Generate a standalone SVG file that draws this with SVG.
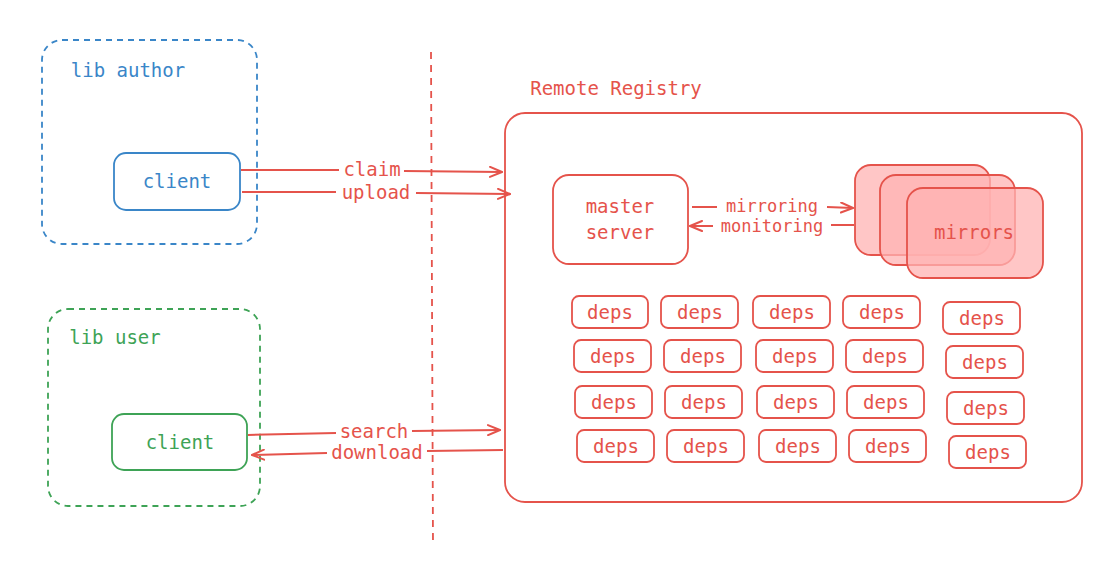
<svg xmlns="http://www.w3.org/2000/svg" width="1106" height="586" viewBox="0 0 1106 586">
<defs>
<marker id="ah" markerWidth="14" markerHeight="12" refX="13" refY="6" orient="auto" markerUnits="userSpaceOnUse"><path d="M1,1 L13,6 L1,11" fill="none" stroke="#e5534b" stroke-width="2" stroke-linecap="round"/></marker>
<style>
text{font-family:"DejaVu Sans Mono","Liberation Mono",monospace;font-size:19px;text-anchor:middle;dominant-baseline:central}
.r{fill:#e5534b}.b{fill:#3a86c8}.g{fill:#3ea356}
.sm{font-size:17px}
.rs{fill:#fff;stroke:#e5534b;stroke-width:1.8}
.ln{stroke:#e5534b;stroke-width:2;fill:none}
.dp rect{fill:#fff;stroke:#e5534b;stroke-width:1.8}
</style>
</defs>
<rect width="1106" height="586" fill="#fff"/>
<g id="lib-author"><rect x="42" y="40" width="215" height="204" rx="20" fill="none" stroke="#3a86c8" stroke-width="1.8" stroke-dasharray="6,5"/><text x="128" y="70" class="b">lib author</text></g>
<g id="author-client"><rect x="114" y="153" width="126" height="57" rx="12" fill="#fff" stroke="#3a86c8" stroke-width="1.8"/><text x="177" y="181" class="b">client</text></g>
<g id="lib-user"><rect x="48" y="309" width="212" height="197" rx="20" fill="none" stroke="#3ea356" stroke-width="1.8" stroke-dasharray="6,5"/><text x="115" y="337" class="g">lib user</text></g>
<g id="user-client"><rect x="112" y="414" width="135" height="56" rx="12" fill="#fff" stroke="#3ea356" stroke-width="1.8"/><text x="180" y="442" class="g">client</text></g>
<g id="divider"><line x1="431" y1="52" x2="433" y2="546" stroke="#e5534b" stroke-width="1.8" stroke-dasharray="7,6"/></g>
<g id="registry"><text x="616" y="88" class="r">Remote Registry</text><rect x="505" y="113" width="577" height="389" rx="20" fill="none" stroke="#e5534b" stroke-width="1.8"/></g>
<g id="master"><rect x="553" y="175" width="135" height="89" rx="16" class="rs"/><text x="620" y="206" class="r">master</text><text x="620" y="232" class="r">server</text></g>
<g id="mirrors">
<rect x="855" y="165" width="135" height="90" rx="16" fill="#ffb3b3" fill-opacity="0.75" stroke="#e5534b" stroke-width="1.8"/>
<rect x="880" y="175" width="135" height="90" rx="16" fill="#ffb3b3" fill-opacity="0.75" stroke="#e5534b" stroke-width="1.8"/>
<rect x="907" y="188" width="136" height="90" rx="16" fill="#ffb3b3" fill-opacity="0.75" stroke="#e5534b" stroke-width="1.8"/>
<text x="974" y="232" class="r">mirrors</text></g>
<g id="deps" class="dp">
<rect x="572" y="296" width="76" height="32" rx="7"/><text x="610" y="312" class="r">deps</text>
<rect x="661" y="296" width="77" height="32" rx="7"/><text x="700" y="312" class="r">deps</text>
<rect x="753" y="296" width="77" height="32" rx="7"/><text x="792" y="312" class="r">deps</text>
<rect x="843" y="296" width="77" height="32" rx="7"/><text x="882" y="312" class="r">deps</text>
<rect x="943" y="302" width="77" height="32" rx="7"/><text x="982" y="318" class="r">deps</text>
<rect x="574" y="340" width="77" height="32" rx="7"/><text x="613" y="356" class="r">deps</text>
<rect x="664" y="340" width="77" height="32" rx="7"/><text x="703" y="356" class="r">deps</text>
<rect x="756" y="340" width="77" height="32" rx="7"/><text x="795" y="356" class="r">deps</text>
<rect x="846" y="340" width="77" height="32" rx="7"/><text x="885" y="356" class="r">deps</text>
<rect x="946" y="346" width="77" height="32" rx="7"/><text x="985" y="362" class="r">deps</text>
<rect x="575" y="386" width="77" height="32" rx="7"/><text x="614" y="402" class="r">deps</text>
<rect x="665" y="386" width="77" height="32" rx="7"/><text x="704" y="402" class="r">deps</text>
<rect x="757" y="386" width="77" height="32" rx="7"/><text x="796" y="402" class="r">deps</text>
<rect x="847" y="386" width="77" height="32" rx="7"/><text x="886" y="402" class="r">deps</text>
<rect x="947" y="392" width="77" height="32" rx="7"/><text x="986" y="408" class="r">deps</text>
<rect x="577" y="430" width="77" height="32" rx="7"/><text x="616" y="446" class="r">deps</text>
<rect x="667" y="430" width="77" height="32" rx="7"/><text x="706" y="446" class="r">deps</text>
<rect x="759" y="430" width="77" height="32" rx="7"/><text x="798" y="446" class="r">deps</text>
<rect x="849" y="430" width="77" height="32" rx="7"/><text x="888" y="446" class="r">deps</text>
<rect x="949" y="436" width="77" height="32" rx="7"/><text x="988" y="452" class="r">deps</text>
</g>
<g id="connectors">
<path class="ln" d="M241,170 L339,170 M404,171 L502,172" marker-end="url(#ah)"/>
<path class="ln" d="M242,192 L336,192 M416,193 L510,194" marker-end="url(#ah)"/>
<path class="ln" d="M692,207 L717,207 M827,207 L853,208" marker-end="url(#ah)"/>
<path class="ln" d="M854,225 L831,225 M713,226 L690,226" marker-end="url(#ah)"/>
<path class="ln" d="M248,435 L336,433 M412,431 L500,430" marker-end="url(#ah)"/>
<path class="ln" d="M503,450 L427,451 M327,453 L252,455" marker-end="url(#ah)"/>
<text x="372" y="169" class="r">claim</text>
<text x="376" y="192" class="r">upload</text>
<text x="772" y="206" class="r sm">mirroring</text>
<text x="772" y="226" class="r sm">monitoring</text>
<text x="374" y="431" class="r">search</text>
<text x="377" y="452" class="r">download</text>
</g>
</svg>
